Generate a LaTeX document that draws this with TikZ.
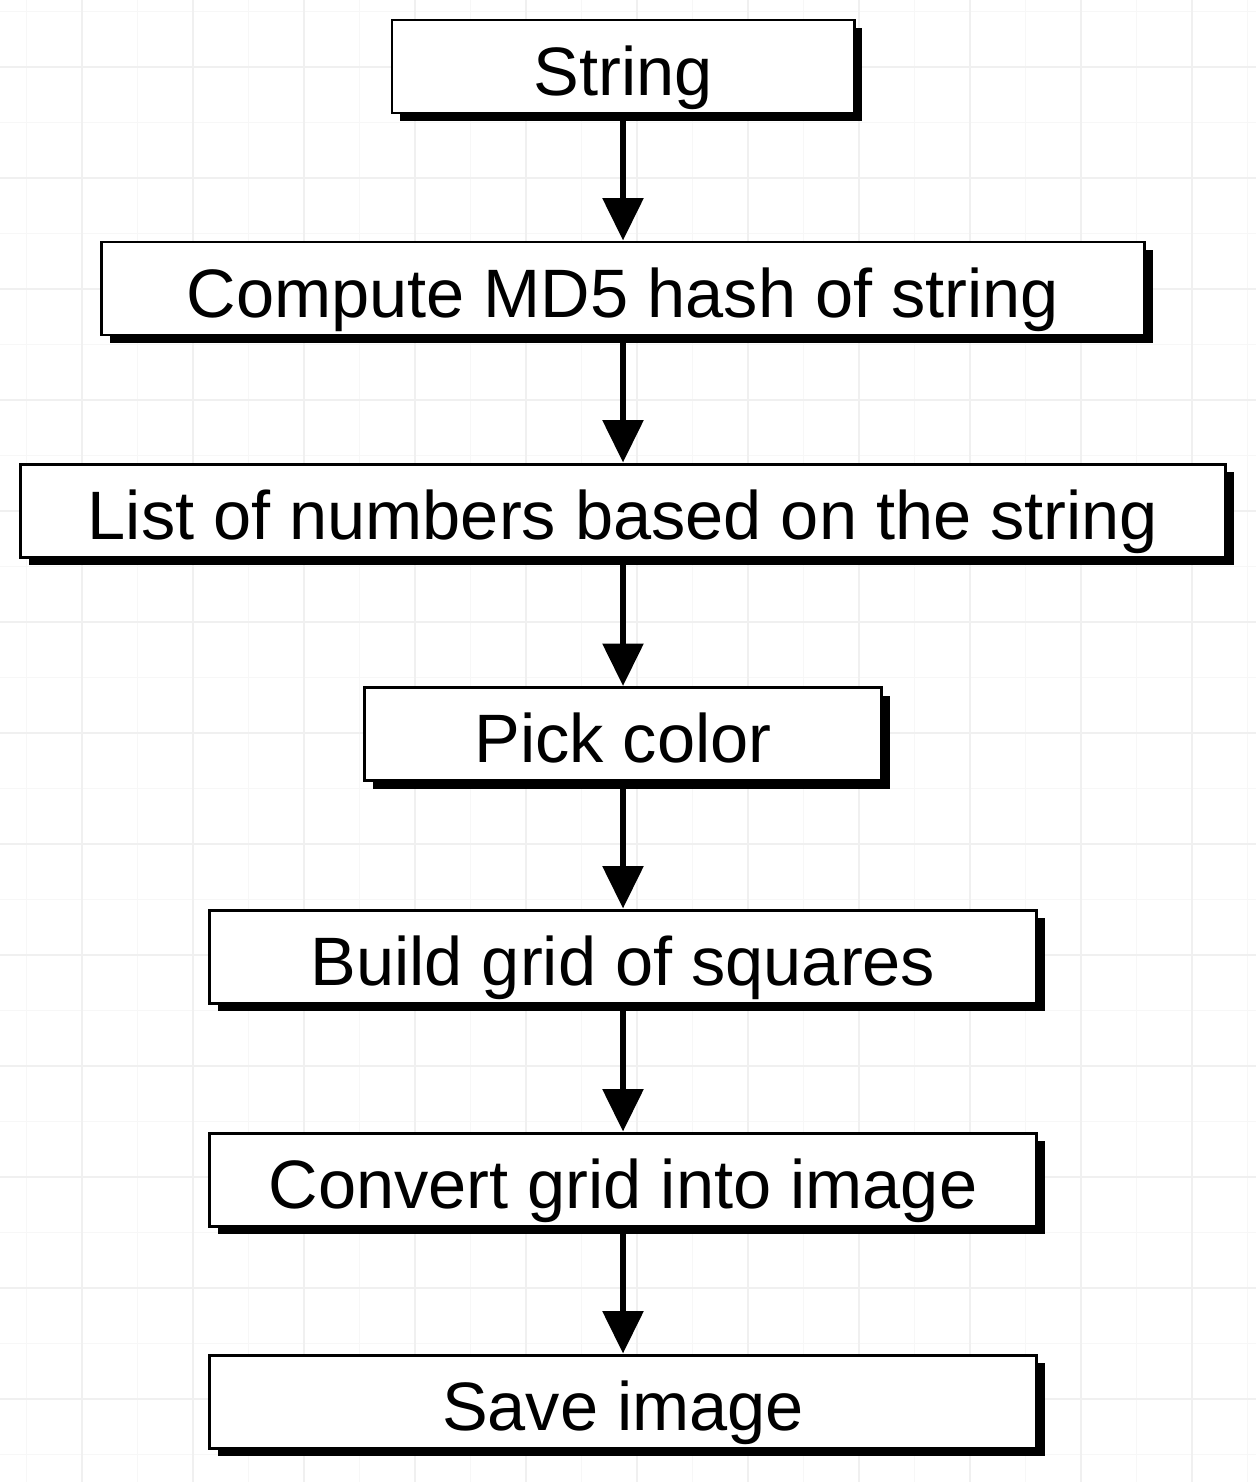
\documentclass[tikz,border=0pt]{standalone}
\usepackage{fontspec}
\setmainfont{Liberation Sans}
\usetikzlibrary{positioning,arrows.meta,shadows}
\tikzset{
	stepbox/.style={draw, line width=1.7pt, fill=white, minimum height=1.86cm, inner sep=0pt,
		text height=1.2cm, text depth=0.06cm, font=\fontsize{39}{45}\selectfont,
		drop shadow={shadow xshift=0.16cm, shadow yshift=-0.16cm, fill=black, opacity=1}},
	flow/.style={line width=3.4pt, -{Triangle[length=0.85cm, width=0.8cm]}}
}
\begin{document}
\begin{tikzpicture}
	\useasboundingbox (0,0) rectangle (25.12,-29.64);
	\fill[white] (0,0) rectangle (25.12,-29.64);
	% faint background grid
	\begin{scope}[shift={(1.64,-1.34)}]
	\draw[black!3, line width=0.8pt] (-1.64,-28.3) grid[step=1.11] (23.48,1.34);
	\draw[black!6, line width=1pt] (-1.64,-28.3) grid[step=2.22] (23.48,1.34);
	\end{scope}
	% steps
	\node[stepbox, minimum width=9.24cm] (str) at (12.46,-1.33) {String};
	\node[stepbox, minimum width=20.86cm] (md5) at (12.46,-5.77) {Compute MD5 hash of string};
	\node[stepbox, minimum width=24.1cm] (nums) at (12.46,-10.21) {List of numbers based on the string};
	\node[stepbox, minimum width=10.34cm] (pick) at (12.46,-14.68) {Pick color};
	\node[stepbox, minimum width=16.54cm] (grid) at (12.46,-19.13) {Build grid of squares};
	\node[stepbox, minimum width=16.54cm] (conv) at (12.46,-23.59) {Convert grid into image};
	\node[stepbox, minimum width=16.54cm] (save) at (12.46,-28.03) {Save image};
	% arrows
	\draw[flow] (str) -- (md5);
	\draw[flow] (md5) -- (nums);
	\draw[flow] (nums) -- (pick);
	\draw[flow] (pick) -- (grid);
	\draw[flow] (grid) -- (conv);
	\draw[flow] (conv) -- (save);
\end{tikzpicture}
\end{document}
